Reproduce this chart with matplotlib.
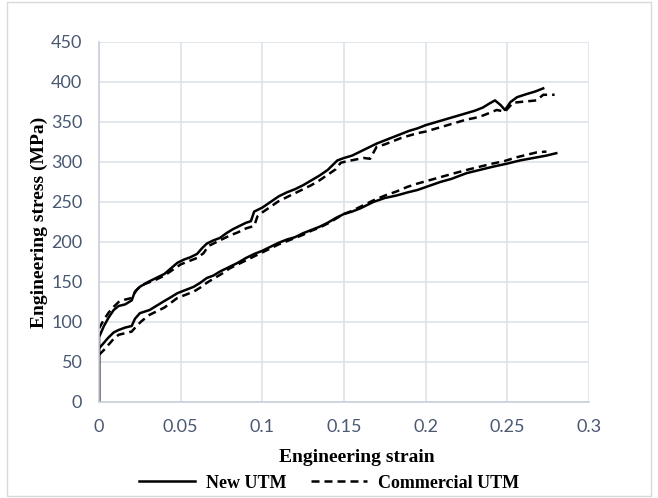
import matplotlib

matplotlib.use("Agg")
import matplotlib.pyplot as plt
from matplotlib.patches import Rectangle

# 数据
strain_new_1 = [0, 0, 0.003, 0.006, 0.009, 0.012, 0.016, 0.020, 0.022, 0.025, 0.030,
                0.035, 0.040, 0.044, 0.048, 0.052, 0.056, 0.060, 0.063, 0.066, 0.070,
                0.074, 0.078, 0.082, 0.086, 0.090, 0.093, 0.095, 0.100, 0.105, 0.110,
                0.115, 0.120, 0.125, 0.130, 0.135, 0.140, 0.143, 0.146, 0.150, 0.155,
                0.160, 0.165, 0.170, 0.175, 0.180, 0.185, 0.190, 0.195, 0.200, 0.205,
                0.210, 0.215, 0.220, 0.225, 0.230, 0.235, 0.239, 0.2425, 0.246, 0.2486,
                0.252, 0.256, 0.262, 0.267, 0.272]
stress_new_1 = [0, 81, 95, 106, 115, 120, 122, 127, 138, 144, 150,
                155, 160, 167, 174, 178, 181, 185, 192, 198, 202,
                205, 211, 216, 220, 224, 226, 238, 243, 250, 257,
                262, 266, 271, 277, 283, 290, 296, 302, 305, 308,
                313, 318, 323, 327, 331, 335, 339, 342, 346, 349,
                352, 355, 358, 361, 364, 368, 373, 377, 371, 365,
                375, 381, 385, 388, 392]

strain_com_1 = [0, 0.003, 0.006, 0.009, 0.012, 0.016, 0.020, 0.023, 0.026, 0.030,
                0.035, 0.040, 0.045, 0.050, 0.055, 0.060, 0.064, 0.067, 0.072, 0.076,
                0.080, 0.085, 0.090, 0.095, 0.097, 0.100, 0.105, 0.110, 0.115, 0.120,
                0.125, 0.130, 0.135, 0.140, 0.145, 0.148, 0.152, 0.157, 0.162, 0.166,
                0.170, 0.175, 0.180, 0.185, 0.190, 0.195, 0.200, 0.205, 0.210, 0.215,
                0.220, 0.225, 0.230, 0.235, 0.240, 0.2435, 0.2486, 0.2535, 0.258, 0.263,
                0.268, 0.272, 0.279]
stress_com_1 = [92, 103, 112, 119, 125, 128, 130, 140, 146, 149,
                153, 158, 165, 172, 176, 180, 186, 195, 200, 204,
                208, 212, 217, 220, 232, 237, 244, 251, 256, 261,
                266, 271, 277, 284, 291, 299, 301, 303, 305, 304,
                319, 322, 326, 330, 333, 336, 338, 341, 344, 347,
                350, 353, 355, 358, 362, 365, 363, 374, 375, 376,
                377, 384, 384]

strain_new_2 = [0, 0, 0.003, 0.0055, 0.009, 0.012, 0.016, 0.020, 0.022, 0.025, 0.028,
                0.031, 0.035, 0.039, 0.044, 0.048, 0.053, 0.058, 0.062, 0.066, 0.070,
                0.074, 0.080, 0.085, 0.090, 0.095, 0.100, 0.105, 0.110, 0.115, 0.120,
                0.125, 0.130, 0.135, 0.140, 0.145, 0.150, 0.155, 0.160, 0.168, 0.175,
                0.182, 0.189, 0.195, 0.202, 0.209, 0.216, 0.225, 0.233, 0.241, 0.250,
                0.258, 0.266, 0.274, 0.280]
stress_new_2 = [0, 67, 74, 80, 87, 90, 93, 95, 104, 111, 113,
                115, 120, 125, 131, 136, 140, 144, 149, 155, 158,
                163, 169, 174, 180, 185, 189, 194, 199, 203, 206,
                211, 215, 219, 224, 230, 235, 238, 242, 250, 255,
                258, 262, 265, 270, 275, 279, 286, 290, 294, 298,
                302, 305, 308, 311]

strain_com_2 = [0, 0.003, 0.006, 0.009, 0.012, 0.016, 0.020, 0.023, 0.026, 0.031,
                0.035, 0.040, 0.044, 0.048, 0.053, 0.058, 0.062, 0.066, 0.070, 0.075,
                0.080, 0.085, 0.090, 0.095, 0.100, 0.105, 0.110, 0.115, 0.120, 0.125,
                0.130, 0.135, 0.140, 0.145, 0.150, 0.155, 0.160, 0.168, 0.175, 0.182,
                0.189, 0.195, 0.202, 0.209, 0.216, 0.225, 0.233, 0.241, 0.248, 0.256,
                0.262, 0.268, 0.274]
stress_com_2 = [59, 65, 72, 79, 84, 86, 88, 95, 101, 109,
                113, 118, 124, 130, 134, 138, 143, 149, 154, 160,
                167, 172, 177, 182, 187, 192, 197, 201, 205, 209,
                214, 218, 223, 229, 235, 239, 244, 252, 258, 263,
                269, 273, 277, 281, 285, 290, 294, 298, 301, 306,
                309, 312, 313]

x_ticks = [0, 0.05, 0.1, 0.15, 0.2, 0.25, 0.3]
x_tick_labels = ["0", "0.05", "0.1", "0.15", "0.2", "0.25", "0.3"]
y_ticks = [0, 50, 100, 150, 200, 250, 300, 350, 400, 450]

grid_color = "#dde1ea"
tick_color = "#4a5872"
serif = "Liberation Serif"

fig = plt.figure(figsize=(6.58, 4.98), dpi=100)
ax = fig.add_axes([0.1505, 0.1928, 0.7445, 0.7229])

dash = (0, (3.2, 2))
ax.plot(strain_new_1, stress_new_1, color="black", lw=1.8, label="New UTM")
ax.plot(strain_com_1, stress_com_1, color="black", lw=1.8, linestyle=dash,
        label="Commercial UTM")
ax.plot(strain_new_2, stress_new_2, color="black", lw=1.8)
ax.plot(strain_com_2, stress_com_2, color="black", lw=1.8, linestyle=dash)

ax.set_xlim(0, 0.3)
ax.set_ylim(0, 450)
ax.set_xticks(x_ticks)
ax.set_xticklabels(x_tick_labels)
ax.set_yticks(y_ticks)
ax.grid(True, color=grid_color, lw=1.2)
ax.set_axisbelow(True)
for side in ["top", "right"]:
    ax.spines[side].set_visible(False)
for side in ["left", "bottom"]:
    ax.spines[side].set_color("#c9cfdc")
    ax.spines[side].set_linewidth(1.2)
ax.tick_params(length=0, labelsize=13, labelcolor=tick_color)
ax.tick_params(axis="x", pad=12)
ax.tick_params(axis="y", pad=12)
for lab in ax.get_xticklabels() + ax.get_yticklabels():
    lab.set_family("Lato")

ax.set_xlabel("Engineering strain", fontfamily=serif, fontweight="bold",
              fontsize=14)
ax.xaxis.set_label_coords(0.527, -0.13)
ax.set_ylabel("Engineering stress (MPa)", fontfamily=serif, fontweight="bold",
              fontsize=14)
ax.yaxis.set_label_coords(-0.104, 0.5)

fig.legend(loc="center", bbox_to_anchor=(0.5, 0.03), ncol=2, frameon=False,
           handlelength=3.1, handletextpad=0.6, columnspacing=1.4,
           prop={"family": serif, "weight": "bold", "size": 13})

# 外框
fig.patches.append(Rectangle((7 / 658, 2 / 498), 644 / 658, 494 / 498,
                             transform=fig.transFigure, fill=False,
                             edgecolor="#d9d9d9", lw=1))

fig.savefig("out.png", dpi=100)
